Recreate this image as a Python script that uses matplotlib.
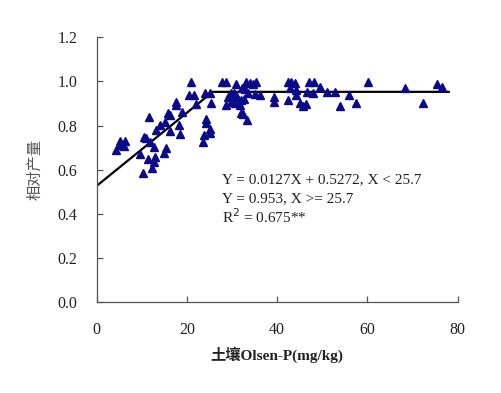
import matplotlib
matplotlib.use("Agg")
import matplotlib.pyplot as plt

# soil Olsen-P (mg/kg) and relative yield
olsen_p = [4.2, 4.9, 5.2, 6.0, 6.2,
           9.5, 10.3, 10.5, 11.0, 11.4, 11.8, 11.7, 12.3, 12.6, 12.8, 13.0, 13.1,
           14.0, 14.9, 15.3, 15.1, 15.8, 16.2, 16.3, 17.5, 17.65, 18.2, 18.4, 19.0,
           20.4, 21.0, 21.5, 21.9,
           23.5, 23.8, 24.3, 24.3, 25.2, 25.2, 23.9, 25.2, 25.4,
           27.8, 28.6, 28.6, 29.1, 29.7, 29.8, 30.3, 30.6, 30.9, 31.8, 31.9, 31.9,
           32.3, 32.4, 32.6, 32.8, 33.0, 33.2, 33.5, 33.9, 34.6, 35.0, 35.4, 36.1,
           30.5, 31.0,
           39.3, 39.3, 42.4, 43.1, 43.9, 42.9, 44.1, 42.4, 44.1, 45.0, 45.7, 46.4,
           47.0, 48.1, 46.6, 47.9, 49.5, 51.1, 52.9, 54.0, 56.0, 57.5, 60.1,
           68.3, 72.4, 75.4, 76.6]
rel_yield = [0.689, 0.712, 0.732, 0.708, 0.732,
             0.672, 0.585, 0.747, 0.743, 0.648, 0.727, 0.838, 0.606, 0.634, 0.704, 0.657, 0.780,
             0.803, 0.677, 0.697, 0.818, 0.855, 0.777, 0.849, 0.893, 0.909, 0.803, 0.763, 0.863,
             0.939, 0.999, 0.939, 0.897,
             0.727, 0.758, 0.811, 0.829, 0.765, 0.783, 0.946, 0.946, 0.904,
             0.999, 0.999, 0.893, 0.931, 0.947, 0.909, 0.929, 0.904, 0.989, 0.893, 0.916, 0.858,
             0.969, 0.853, 0.920, 0.964, 0.999, 0.826, 0.946, 0.995, 0.989, 0.944, 0.999, 0.939,
             0.950, 0.930,
             0.929, 0.906, 0.999, 0.999, 0.992, 0.969, 0.961, 0.916, 0.939, 0.904, 0.889, 0.898,
             0.999, 0.999, 0.953, 0.946, 0.973, 0.953, 0.953, 0.890, 0.939, 0.904, 0.999,
             0.969, 0.904, 0.989, 0.973]

# linear-plateau fit (as drawn in the figure)
intercept = 0.5272
plateau = 0.953
break_x = 25.7
x_end = 78

x_ticks = [0, 20, 40, 60, 80]
y_ticks = [0.0, 0.2, 0.4, 0.6, 0.8, 1.0, 1.2]

eq_lines = ["Y = 0.0127X + 0.5272, X < 25.7",
            "Y = 0.953, X >= 25.7",
            "R$^2$ = 0.675**"]

fig = plt.figure(figsize=(5.02, 3.93), dpi=100)
ax = fig.add_axes([0.1926, 0.2308, 0.7192, 0.6743])

ax.plot([0, break_x, x_end], [intercept, plateau, plateau],
        color="black", lw=1.6, zorder=2)

ax.plot(olsen_p, rel_yield, linestyle="none", marker="^", ms=6,
        color="#0a0a8a", zorder=3)

ax.set_xlim(0, 80)
ax.set_ylim(0, 1.2)
ax.set_xticks(x_ticks)
ax.set_yticks(y_ticks)
ax.set_xticklabels([str(v) for v in x_ticks])
ax.set_yticklabels([f"{v:.1f}" for v in y_ticks])

for s in ["top", "right"]:
    ax.spines[s].set_visible(False)
for s in ["left", "bottom"]:
    ax.spines[s].set_color("#555555")
    ax.spines[s].set_linewidth(0.9)

ax.tick_params(direction="in", length=4, width=0.9, color="#555555",
               labelsize=11.5, labelcolor="#222222")
ax.tick_params(axis="y", pad=14)
ax.tick_params(axis="x", pad=14)
for lab in ax.get_xticklabels() + ax.get_yticklabels():
    lab.set_family("Liberation Serif")

ax.set_ylabel("相对产量", family=["Noto Sans CJK SC", "DejaVu Sans"],
              fontsize=11, color="#555555", labelpad=10)
ax.set_xlabel("土壤Olsen-P(mg/kg)", family=["Liberation Serif", "Noto Sans CJK SC"],
              fontsize=11, fontweight="bold", color="#222222", labelpad=6)

for i, t in enumerate(eq_lines):
    ax.text(27.8, 0.554 - i * 0.083, t, family="Liberation Serif",
            fontsize=11, color="#222222", va="center", ha="left")

fig.savefig("out.png", dpi=100)
